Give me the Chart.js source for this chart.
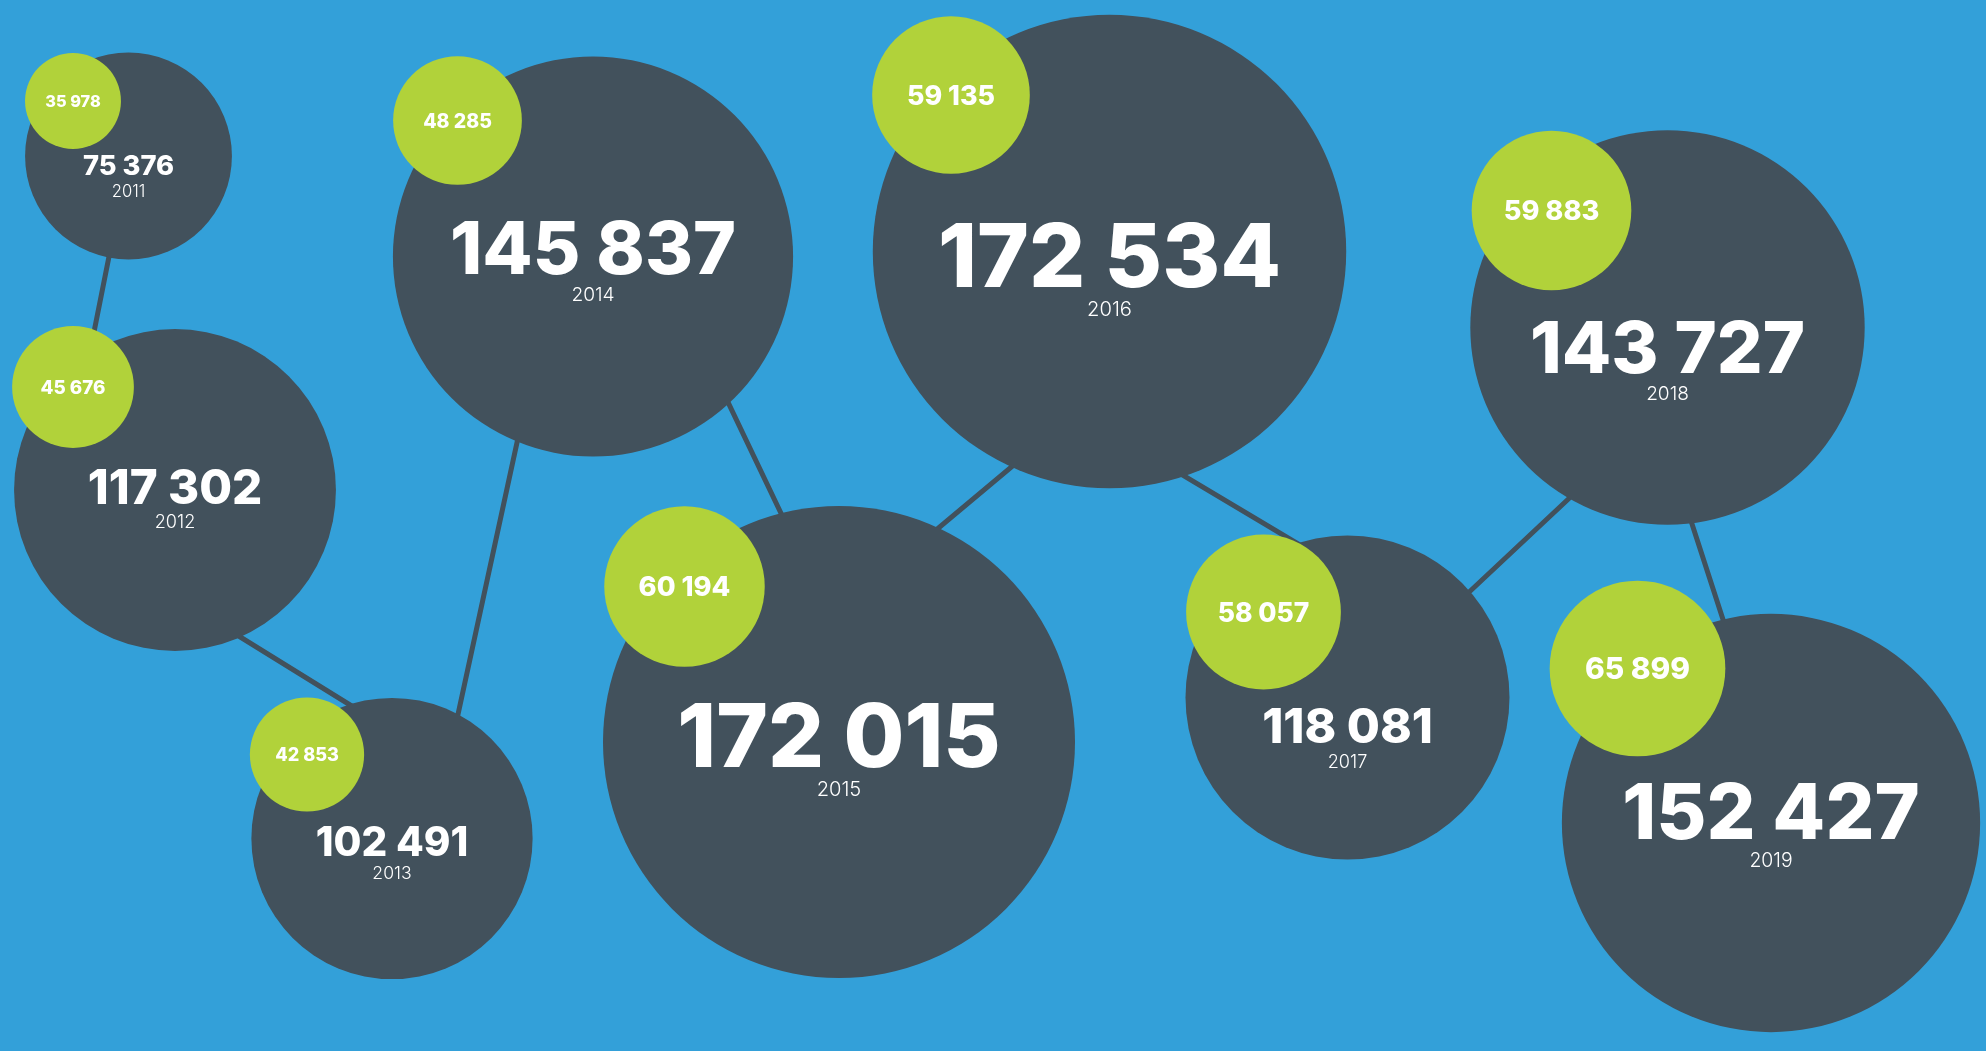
<!DOCTYPE html>
<html>
<head>
<meta charset="utf-8">
<script src="https://cdn.jsdelivr.net/npm/chart.js@4.4.1/dist/chart.umd.min.js"></script>
<style>
html,body{margin:0;padding:0;background:#33a0d9;overflow:hidden}
canvas{display:block;background:#33a0d9}
</style>
</head>
<body>
<canvas id="c" width="1986" height="1051"></canvas>
<script>
// ---- data ----
const years       = ['2011','2012','2013','2014','2015','2016','2017','2018','2019'];
const totalValues = [75376,117302,102491,145837,172015,172534,118081,143727,152427];
const partValues  = [35978,45676,42853,48285,60194,59135,58057,59883,65899];
// layout coordinates of each bubble (in chart data units)
const totalX = [128.5,175,392,593,839,1109.5,1347.5,1667.5,1771];
const totalY = [156,490,838.5,256.5,742,251.5,697.5,327.5,823];
const partX  = [73,73,307,457.5,684.5,951,1263.5,1551.5,1637.5];
const partY  = [101,387,754.5,120.5,586.5,95,612,210.5,668.5];
// connector path anchor points (in chart data units)
const linkX = [129,56,447,589,831,1077,1434,1657,1789];
const linkY = [156,523,765,111,618,412,625,416,823];
// vertical nudge of the label block inside each big bubble (px)
const labelShiftY = [9,-3.5,2.5,-9,-7,3.5,28,19.5,-12];

// ---- styles ----
const DARK = '#42515c', GREEN = '#b1d23a';
const K_TOTAL = 0.001372, K_PART = 0.001333;
const fmt = v => String(v).replace(/\B(?=(\d{3})+(?!\d))/g, ' ');
const CAP = 0.727;
const totalCap = v => v < 130000 ? 0.00035 * v - 6.5 : 0.000413 * v - 7;
const partCap  = v => v < 50000 ? 0.00019 * v + 5 : 0.00033 * v;

const labelPlugin = {
  id: 'bubbleLabels',
  afterDatasetsDraw(chart) {
    const ctx = chart.ctx;
    const dark = chart.getDatasetMeta(1).data;
    const green = chart.getDatasetMeta(2).data;
    ctx.save();
    ctx.fillStyle = '#ffffff';
    ctx.textAlign = 'center';
    ctx.textBaseline = 'alphabetic';
    dark.forEach((el, i) => {
      const v = totalValues[i];
      const cap = totalCap(v);
      ctx.font = `800 ${(cap / CAP).toFixed(1)}px Inter`;
      const base = el.y + labelShiftY[i] + cap / 2;
      ctx.fillText(fmt(v), el.x, base);
      const ycap = 10 + v * 0.000027;
      ctx.font = `300 ${(ycap / CAP).toFixed(1)}px Inter`;
      ctx.fillText(years[i], el.x, base + 8 + 0.1 * cap + ycap);
    });
    green.forEach((el, i) => {
      const v = partValues[i];
      const cap = partCap(v);
      ctx.font = `800 ${(cap / CAP).toFixed(1)}px Inter`;
      ctx.fillText(fmt(v), el.x, el.y + cap / 2);
    });
    ctx.restore();
  }
};

new Chart(document.getElementById('c'), {
  type: 'bubble',
  data: {
    datasets: [
      {
        type: 'line',
        label: 'link',
        data: linkX.map((x, i) => ({ x, y: linkY[i] })),
        borderColor: DARK,
        borderWidth: 5,
        pointRadius: 0,
        tension: 0,
        fill: false,
        order: 3,
        clip: false
      },
      {
        label: 'total',
        data: totalX.map((x, i) => ({ x, y: totalY[i], r: totalValues[i] * K_TOTAL })),
        backgroundColor: DARK,
        borderWidth: 0,
        hoverBorderWidth: 0,
        order: 2,
        clip: false
      },
      {
        label: 'part',
        data: partX.map((x, i) => ({ x, y: partY[i], r: partValues[i] * K_PART })),
        backgroundColor: GREEN,
        borderWidth: 0,
        hoverBorderWidth: 0,
        order: 1,
        clip: false
      }
    ]
  },
  options: {
    responsive: false,
    maintainAspectRatio: false,
    animation: false,
    devicePixelRatio: 1,
    layout: { padding: 0, autoPadding: false },
    events: [],
    plugins: { legend: { display: false }, tooltip: { enabled: false } },
    scales: {
      x: { type: 'linear', min: 0, max: 1986, display: false, grace: 0, offset: false },
      y: { type: 'linear', min: 0, max: 1051, reverse: true, display: false, grace: 0, offset: false }
    }
  },
  plugins: [labelPlugin]
});
</script>
</body>
</html>
